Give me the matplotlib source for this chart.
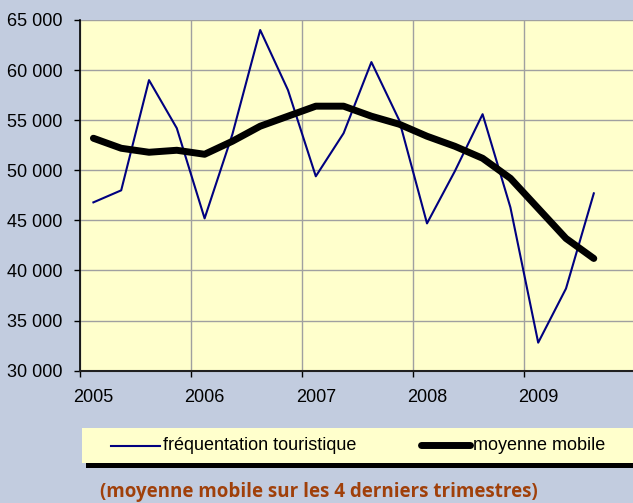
import matplotlib
matplotlib.use("Agg")
import matplotlib.pyplot as plt
from matplotlib.lines import Line2D
from matplotlib.patches import Rectangle
from matplotlib.ticker import FuncFormatter

# quarterly data, 2005 Q1 .. 2009 Q3
start_year = 2005
frequentation = [46800, 48000, 59000, 54200, 45200, 53600, 64000, 58000,
                 49400, 53700, 60800, 55000, 44700, 49900, 55600, 46300,
                 32800, 38200, 47700]
moyenne = [53200, 52200, 51800, 52000, 51600, 52900, 54400, 55400,
           56400, 56400, 55400, 54600, 53400, 52400, 51200, 49200,
           46200, 43200, 41200]
years = [2005, 2006, 2007, 2008, 2009]
legend_labels = ["fréquentation touristique", "moyenne mobile"]
caption = "(moyenne mobile sur les 4 derniers trimestres)"

W, H = 633, 503
BG = "#C2CCDF"
PLOT_BG = "#FFFFCC"
plt.rcParams['font.family'] = ['Liberation Sans', 'DejaVu Sans']

x = [start_year + (i + 0.5) / 4 for i in range(len(frequentation))]

fig = plt.figure(figsize=(W / 100, H / 100), dpi=100)
fig.patch.set_facecolor(BG)


def fx(px):
    return px / W


def fy(py):
    return 1 - py / H


ax_left, ax_right, ax_top, ax_bot = 79.5, 635.5, 20, 370.7
ax = fig.add_axes([fx(ax_left), fy(ax_bot), fx(ax_right - ax_left), (ax_bot - ax_top) / H])
ax.set_facecolor(PLOT_BG)

line1, = ax.plot(x, frequentation, color="#000080", lw=1.5, zorder=3)
line2, = ax.plot(x, moyenne, color="black", lw=5, solid_capstyle="round",
                 solid_joinstyle="round", zorder=4)

ax.set_xlim(2005, 2010)
ax.set_ylim(30000, 65000)
ax.set_yticks(range(30000, 65001, 5000))
ax.yaxis.set_major_formatter(FuncFormatter(lambda v, p: f"{int(v):,}".replace(",", " ")))

ax.set_xticks(years + [2010])
ax.set_xticklabels([])
ax.set_xticks([yr + 0.125 for yr in years], minor=True)
ax.set_xticklabels([str(yr) for yr in years], minor=True)
ax.tick_params(axis="x", which="major", direction="out", length=4, width=1, color="black")
ax.tick_params(axis="x", which="minor", length=0, pad=13.5, labelsize=13)
ax.tick_params(axis="y", direction="out", length=4.5, width=1, pad=7.5, labelsize=13)

ax.grid(True, which="major", color="#A0A0A0", lw=1)
ax.set_axisbelow(True)
for s in ["top", "right"]:
    ax.spines[s].set_visible(False)
ax.spines["left"].set_color("black")
ax.spines["bottom"].set_color("#202020")
ax.spines["left"].set_linewidth(1.2)
ax.spines["bottom"].set_linewidth(1.5)

# legend box with black shadow at the bottom
fig.add_artist(Rectangle((fx(86), fy(467.5)), fx(W), (467.5 - 463) / H,
                         transform=fig.transFigure, facecolor="black", edgecolor="none"))
fig.add_artist(Rectangle((fx(82), fy(463)), fx(W), (463 - 428) / H,
                         transform=fig.transFigure, facecolor=PLOT_BG, edgecolor="none"))
fig.add_artist(Line2D([fx(111), fx(160)], [fy(446), fy(446)], transform=fig.transFigure,
                      color=line1.get_color(), lw=1.5))
fig.add_artist(Line2D([fx(421), fx(470)], [fy(445), fy(445)], transform=fig.transFigure,
                      color="black", lw=5, solid_capstyle="round"))
fig.text(fx(163), fy(445.5), legend_labels[0], fontsize=13, va="center", ha="left")
fig.text(fx(473), fy(445.5), legend_labels[1], fontsize=13, va="center", ha="left")

fig.text(fx(319), fy(492), caption, fontsize=13.5, fontweight="bold",
         family=["Open Sans", "DejaVu Sans"], color="#A0400A", ha="center", va="center")

fig.savefig("out.png", dpi=100, facecolor=BG)
